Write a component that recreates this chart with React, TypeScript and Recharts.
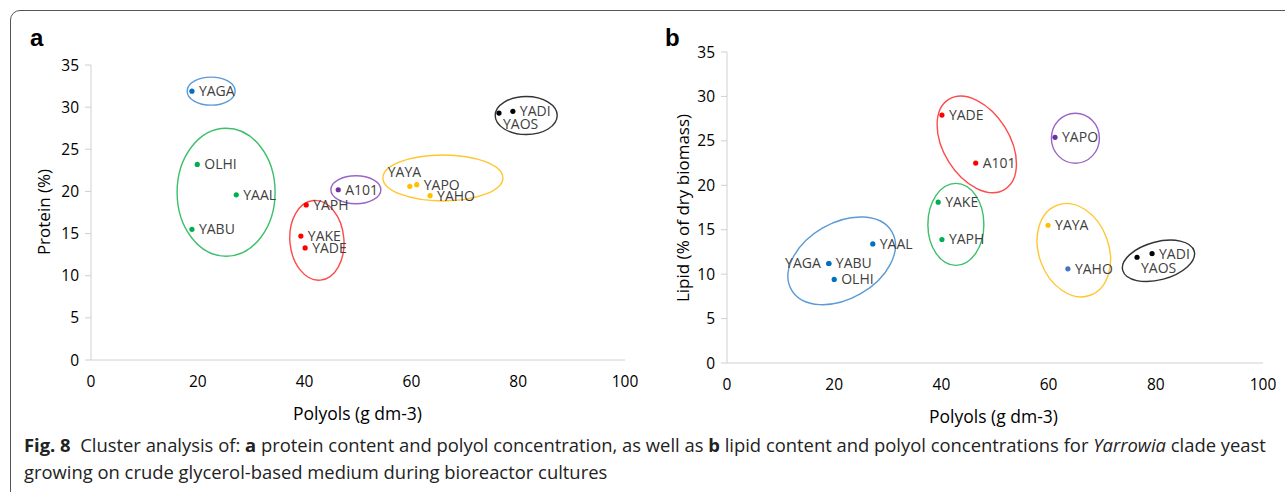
import React from "react";
import { ScatterChart, Scatter, XAxis, YAxis } from "recharts";

const C = { blue: "#0070c0", green: "#00b050", red: "#ff0000", purple: "#7030a0", yellow: "#ffc000", black: "#000000", blue2: "#4472c4" };
const E = { blue: "#5b9bd5", green: "#3cbf6a", red: "#ff4a4a", purple: "#9a64c8", yellow: "#ffc62e", black: "#333333" };

// panel a: protein vs polyols
const namesA = ["YAGA", "OLHI", "YAAL", "YABU", "YAPH", "YAKE", "YADE", "A101", "YAYA", "YAPO", "YAHO", "YAOS", "YADI"];
const polyolsA = [18.9, 19.9, 27.2, 18.9, 40.3, 39.3, 40.1, 46.3, 59.7, 61.0, 63.5, 76.4, 79.0];
const proteinA = [31.9, 23.2, 19.6, 15.5, 18.4, 14.7, 13.3, 20.2, 20.6, 20.8, 19.5, 29.3, 29.5];
const colorsA = ["blue", "green", "green", "green", "red", "red", "red", "purple", "yellow", "yellow", "yellow", "black", "black"];
const labelPosA = ["r", "r", "r", "r", "r", "r", "r", "r", "ul", "r", "r", "b", "r"];

// panel b: lipid vs polyols
const namesB = ["YADE", "A101", "YAPO", "YAKE", "YAPH", "YAAL", "YABU", "YAGA", "OLHI", "YAYA", "YAHO", "YAOS", "YADI"];
const polyolsB = [40.1, 46.4, 61.2, 39.4, 40.1, 27.2, 19.0, 19.0, 20.0, 59.9, 63.6, 76.5, 79.3];
const lipidB = [27.9, 22.5, 25.4, 18.1, 13.9, 13.4, 11.2, 11.2, 9.4, 15.5, 10.6, 11.9, 12.3];
const colorsB = ["red", "red", "purple", "green", "green", "blue", "blue", "blue", "blue", "yellow", "blue2", "black", "black"];
const labelPosB = ["r", "r", "r", "r", "r", "r", "r", "l", "r", "r", "r", "b", "r"];

// cluster ellipses
const ellA = [
  { x: 22.5, y: 31.9, rx: 24, ry: 14, rot: 0, c: "blue" },
  { x: 25.3, y: 19.9, rx: 49, ry: 64, rot: 0, c: "green" },
  { x: 42.3, y: 14.2, rx: 27, ry: 40, rot: -5, c: "red" },
  { x: 49.6, y: 20.2, rx: 25, ry: 14, rot: 0, c: "purple" },
  { x: 65.9, y: 21.6, rx: 60, ry: 23, rot: 0, c: "yellow" },
  { x: 81.5, y: 29.0, rx: 31, ry: 19, rot: 0, c: "black" },
];
const ellB = [
  { x: 46.6, y: 24.6, rx: 53, ry: 33, rot: 58, c: "red" },
  { x: 65.0, y: 25.3, rx: 24, ry: 25, rot: 0, c: "purple" },
  { x: 42.7, y: 15.6, rx: 28, ry: 41, rot: 0, c: "green" },
  { x: 21.4, y: 11.5, rx: 58, ry: 38, rot: -30, c: "blue" },
  { x: 64.7, y: 12.7, rx: 48, ry: 35, rot: 70, c: "yellow" },
  { x: 80.5, y: 11.5, rx: 37, ry: 19, rot: -15, c: "black" },
];

const xTicks = [0, 20, 40, 60, 80, 100];
const yTicks = [0, 5, 10, 15, 20, 25, 30, 35];

const FONT = "'Open Sans', sans-serif";

const mk = (names: string[], xs: number[], ys: number[], cols: string[], pos: string[]) =>
  names.map((n, i) => ({ name: n, x: xs[i], y: ys[i], c: (C as any)[cols[i]], pos: pos[i] }));

const Dot = (p: any) => {
  const { cx, cy, payload } = p;
  let tx = cx + 7, ty = cy + 5, anchor = "start";
  if (payload.pos === "l") { tx = cx - 8; anchor = "end"; }
  if (payload.pos === "ul") { tx = cx - 22; ty = cy - 9; }
  if (payload.pos === "b") { tx = cx + 4; ty = cy + 16; }
  return (
    <g>
      <circle cx={cx} cy={cy} r={2.6} fill={payload.c} />
      <text x={tx} y={ty} textAnchor={anchor as any} fontSize={14} fill="#404040" fontFamily={FONT}>{payload.name}</text>
    </g>
  );
};

const Ell = (p: any) => {
  const { cx, cy, payload } = p;
  return (
    <ellipse cx={cx} cy={cy} rx={payload.rx} ry={payload.ry} fill="none" stroke={(E as any)[payload.c]} strokeWidth={1.4}
      transform={`rotate(${payload.rot} ${cx} ${cy})`} />
  );
};

const tick = { fontSize: 15.5, fill: "#000", fontFamily: FONT };

function Panel({ pts, ells, margin }: any) {
  return (
    <ScatterChart width={640} height={420} margin={margin}>
      <XAxis type="number" dataKey="x" domain={[0, 100]} ticks={xTicks} tick={tick} stroke="#d0d0d0" tickLine={false} height={30} tickMargin={10} />
      <YAxis type="number" dataKey="y" domain={[0, 35]} ticks={yTicks} tick={tick} stroke="#d0d0d0" tickSize={6} width={40} tickMargin={6} />
      <Scatter data={ells} shape={Ell} isAnimationActive={false} />
      <Scatter data={pts} shape={Dot} isAnimationActive={false} />
    </ScatterChart>
  );
}

export default function App() {
  const ptsA = mk(namesA, polyolsA, proteinA, colorsA, labelPosA);
  const ptsB = mk(namesB, polyolsB, lipidB, colorsB, labelPosB);
  const abs = (l: number, t: number): React.CSSProperties => ({ position: "absolute", left: l, top: t });
  return (
    <div style={{ position: "absolute", left: 0, top: 0, width: 1285, height: 492, background: "#fff", overflow: "hidden", fontFamily: FONT }}>
      <div style={{ position: "absolute", left: 10, top: 10, width: 1300, height: 500, border: "1.5px solid #555", borderRadius: 10 }} />
      <div style={abs(0, 0)}>
        <Panel pts={ptsA} ells={ellA} margin={{ left: 51, right: 15, top: 65, bottom: 30 }} />
      </div>
      <div style={abs(640, 0)}>
        <Panel pts={ptsB} ells={ellB} margin={{ left: 47, right: 17, top: 52, bottom: 27 }} />
      </div>
      <div style={{ ...abs(30, 24), fontFamily: "Arial, sans-serif", fontWeight: 700, fontSize: 24 }}>a</div>
      <div style={{ ...abs(665, 24), fontFamily: "Arial, sans-serif", fontWeight: 700, fontSize: 24 }}>b</div>
      <div style={{ ...abs(293, 401), fontSize: 17.5 }}>Polyols (g dm-3)</div>
      <div style={{ ...abs(929, 404), fontSize: 17.5 }}>Polyols (g dm-3)</div>
      <div style={{ position: "absolute", left: 43, top: 212, fontSize: 17, transform: "translate(-50%,-50%) rotate(-90deg)", whiteSpace: "nowrap" }}>Protein (%)</div>
      <div style={{ position: "absolute", left: 682, top: 208, fontSize: 17, transform: "translate(-50%,-50%) rotate(-90deg)", whiteSpace: "nowrap" }}>Lipid (% of dry biomass)</div>
      <div style={{ ...abs(24, 431), fontSize: 18.4, lineHeight: "27px", color: "#222", width: 1250 }}>
        <b>Fig. 8</b>&nbsp; Cluster analysis of: <b>a</b> protein content and polyol concentration, as well as <b>b</b> lipid content and polyol concentrations for <i>Yarrowia</i> clade yeast growing on crude glycerol-based medium during bioreactor cultures
      </div>
    </div>
  );
}
